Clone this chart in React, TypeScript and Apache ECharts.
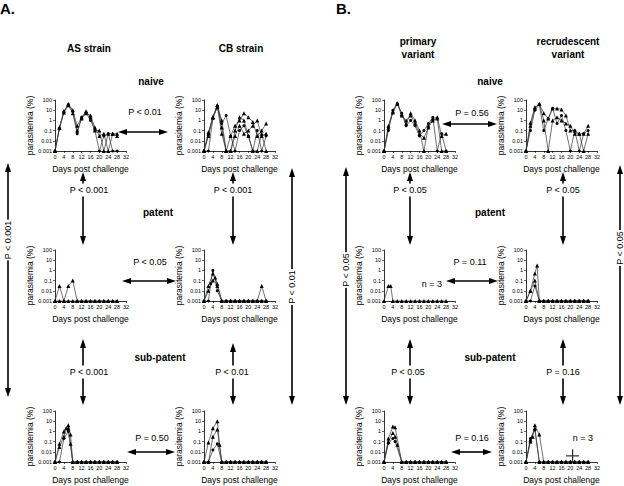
import React, { useEffect, useRef } from "react";
import * as echarts from "echarts";

const FONT = "'Liberation Sans', Arial, Helvetica, sans-serif";
const L = 0.001; // detection limit (plotted as 0.001)

// ---- x positions (days post challenge) ----
const daysNaive = [0, 2, 4, 6, 8, 10, 12, 14, 16, 18, 20, 22, 24, 26, 28];
const daysEarly = [0, 2, 3, 4, 5, 6, 7, 8, 10, 12, 14, 16, 18, 20, 22, 24, 26, 28];

// ---- naive row ----
const asNaive1 = [L, 0.2, 8, 40, 10, 0.3, 2, 8, 2, 0.1, 0.1, L, 0.05, 0.05, 0.03];
const asNaive2 = [L, 0.2, 6, 30, 5, 0.1, 1.5, 5, 3, 0.2, 0.03, 0.05, L, 0.05, 0.05];
const asNaive3 = [L, 0.15, 7, 35, 8, 0.05, 2, 6, 1, 0.1, L, 0.03, 0.05, L, L];

const cbNaive1 = [L, 0.07, 2, 30, 1, L, 0.03, 0.3, 1, 5, 2, 0.7, 0.03, 0.1, 0.5];
const cbNaive2 = [L, 0.03, 2, 30, 0.2, L, L, 0.03, 0.3, 0.05, 0.1, 0.3, 1, 0.03, 0.05];
const cbNaive3 = [L, L, 1.5, 25, 0.5, 3, 0.03, L, 0.1, 0.3, 0.03, L, 0.1, L, 0.03];
const cbNaive4 = [L, 0.05, 2, 20, 0.05, L, L, 0.1, 2, 1, 0.03, L, L, 0.05, L];

const primNaive1 = [L, 0.3, 8, 50, 4, 0.5, 5, 1, 0.1, L, 0.3, 1.5, 2, 0.03, 0.05];
const primNaive2 = [L, 0.2, 6, 40, 3, 1, 3, 0.5, 0.05, 0.02, 0.2, 1, 1.5, L, L];
const primNaive3 = [L, 0.1, 10, 45, 5, 0.3, 1, 0.3, 0.03, 0.1, 0.5, 2, L, 0.05, L];

const recNaive1 = [L, 0.6, 20, 40, 5, 1.5, 15, 15, 12, 3, 0.1, 0.1, 0.05, 0.05, 0.3];
const recNaive2 = [L, 0.3, 15, 40, 1, L, 1, 2, 1, 0.5, 0.3, 0.05, 0.05, L, 0.05];
const recNaive3 = [L, 0.1, 10, 35, 0.1, 1.5, 15, 0.5, 3, 0.1, L, 0.1, L, 0.05, 0.1];

// ---- patent row (daysEarly) ----
const asPat1 = [L, 0.03, null, L, null, 0.03, null, 0.1, L, L, L, L, L, L, L, L, L, L];
const asPat2 = [L, L, null, L, null, L, null, L, L, L, L, L, L, L, L, L, L, L];

const cbPat1 = [L, 0.03, null, 0.5, null, 0.05, null, L, L, L, L, L, L, L, L, L, 0.03, L];
const cbPat2 = [L, 0.01, null, 0.1, 0.2, 0.03, null, L, L, L, L, L, L, L, L, L, L, L];
const cbPat3 = [L, L, 0.05, 1, null, 0.01, null, L, L, L, L, L, L, L, L, L, L, L];

const primPat1 = [L, 0.03, 0.03, L, null, L, null, L, L, L, L, L, L, L, L, L, L, L];

const recPat1 = [L, 0.01, null, 0.5, 3, L, null, L, L, L, L, L, L, L, L, L, L, L];
const recPat2 = [L, 0.01, null, 0.1, null, L, null, L, L, L, L, L, L, L, L, L, L, L];
const recPat3 = [L, L, null, 0.03, null, L, null, L, L, L, L, L, L, L, L, L, L, L];

// ---- sub-patent row (daysEarly) ----
const asSub1 = [L, 0.06, null, 1, null, 4, 0.5, L, L, L, L, L, L, L, L, L, L, L];
const asSub2 = [L, 0.03, null, 0.3, 2, 2, 0.06, L, L, L, L, L, L, L, L, L, L, L];
const asSub3 = [L, L, null, 0.2, null, 1, null, L, L, L, L, L, L, L, L, L, L, L];

const cbSub1 = [L, 0.08, null, 2, null, 10, 0.05, L, L, L, L, L, L, L, L, L, L, L];
const cbSub2 = [L, L, null, 0.3, null, 1.5, null, L, L, L, L, L, L, L, L, L, L, L];
const cbSub3 = [L, L, null, 0.015, null, 0.06, null, L, L, L, L, L, L, L, L, L, L, L];

const primSub1 = [L, 0.2, null, 3, 2.5, null, null, L, L, L, L, L, L, L, L, L, L, L];
const primSub2 = [L, 0.1, null, 0.7, 0.3, 0.05, null, L, L, L, L, L, L, L, L, L, L, L];
const primSub3 = [L, 0.07, null, 0.2, 0.1, null, null, L, L, L, L, L, L, L, L, L, L, L];

const recSub1 = [L, 0.1, 0.3, 4, null, 0.5, null, L, L, L, L, L, L, L, L, L, L, L];
const recSub2 = [L, 0.15, null, 2, null, L, null, L, L, L, L, L, L, L, L, L, L, L];
const recSub3 = [L, 0.2, null, 1.4, null, L, null, L, L, L, L, L, L, L, L, L, L, L];

// death mark (dagger) in recrudescent sub-patent panel
const deathDay = [21];
const deathLevel = [0.004];

const yTicks = ["0.001", "0.01", "0.1", "1", "10", "100"];
const xTickMax = 32;

type Panel = { days: number[]; mice: (number | null)[][] };
const panels: Panel[] = [
  { days: daysNaive, mice: [asNaive1, asNaive2, asNaive3] },
  { days: daysNaive, mice: [cbNaive1, cbNaive2, cbNaive3, cbNaive4] },
  { days: daysNaive, mice: [primNaive1, primNaive2, primNaive3] },
  { days: daysNaive, mice: [recNaive1, recNaive2, recNaive3] },
  { days: daysEarly, mice: [asPat1, asPat2] },
  { days: daysEarly, mice: [cbPat1, cbPat2, cbPat3] },
  { days: daysEarly, mice: [primPat1] },
  { days: daysEarly, mice: [recPat1, recPat2, recPat3] },
  { days: daysEarly, mice: [asSub1, asSub2, asSub3] },
  { days: daysEarly, mice: [cbSub1, cbSub2, cbSub3] },
  { days: daysEarly, mice: [primSub1, primSub2, primSub3] },
  { days: daysEarly, mice: [recSub1, recSub2, recSub3] },
];

const colLeft = [55, 204, 384, 526];
const rowTop = [100, 250, 411];
const PW = 71;
const PH = 51;

const symbols = ["triangle", "triangle", "circle", "triangle"];
const symbolSizes = [4, 4, 3, 4];

function vArrow(x: number, y1: number, y2: number, top: boolean, bottom: boolean) {
  const els: any[] = [
    {
      type: "line",
      shape: { x1: x, y1: y1 + (top ? 6 : 0), x2: x, y2: y2 - (bottom ? 6 : 0) },
      style: { stroke: "#000", lineWidth: 1.6 },
    },
  ];
  if (top)
    els.push({ type: "polygon", shape: { points: [[x, y1], [x - 3, y1 + 9], [x + 3, y1 + 9]] }, style: { fill: "#000" } });
  if (bottom)
    els.push({ type: "polygon", shape: { points: [[x, y2], [x - 3, y2 - 9], [x + 3, y2 - 9]] }, style: { fill: "#000" } });
  return els;
}

function hArrow(x1: number, x2: number, y: number) {
  return [
    { type: "line", shape: { x1: x1 + 6, y1: y, x2: x2 - 6, y2: y }, style: { stroke: "#000", lineWidth: 1.6 } },
    { type: "polygon", shape: { points: [[x1, y], [x1 + 9, y - 3], [x1 + 9, y + 3]] }, style: { fill: "#000" } },
    { type: "polygon", shape: { points: [[x2, y], [x2 - 9, y - 3], [x2 - 9, y + 3]] }, style: { fill: "#000" } },
  ];
}

function txt(x: number, y: number, text: string, size: number, bold = false, opts: any = {}) {
  return {
    type: "text",
    x,
    y,
    rotation: opts.rotation || 0,
    z: 10,
    style: {
      text,
      fontSize: size,
      fontWeight: bold ? "bold" : "normal",
      fontFamily: FONT,
      fill: "#000",
      align: opts.align || "center",
      verticalAlign: "middle",
      backgroundColor: opts.bg ? "#fff" : undefined,
      padding: opts.bg ? [2, 1] : undefined,
    },
  };
}

export default function App() {
  const ref = useRef<HTMLDivElement>(null);
  useEffect(() => {
    const chart = echarts.init(ref.current!, null, { renderer: "svg" });
    const grids: any[] = [];
    const xAxes: any[] = [];
    const yAxes: any[] = [];
    const series: any[] = [];
    panels.forEach((p, i) => {
      const r = Math.floor(i / 4);
      const c = i % 4;
      grids.push({ left: colLeft[c], top: rowTop[r], width: PW, height: PH, containLabel: false });
      xAxes.push({
        type: "value",
        gridIndex: i,
        min: 0,
        max: xTickMax,
        interval: 4,
        name: "Days post challenge",
        nameLocation: "middle",
        nameGap: 13,
        nameTextStyle: { fontSize: 8.5, fontFamily: FONT, color: "#000" },
        axisLine: { lineStyle: { color: "#000", width: 0.8 } },
        axisTick: { show: true, length: 2, lineStyle: { color: "#000", width: 0.6 } },
        axisLabel: { fontSize: 5.5, fontFamily: FONT, color: "#000", margin: 3 },
        splitLine: { show: false },
      });
      yAxes.push({
        type: "log",
        logBase: 10,
        gridIndex: i,
        min: 0.001,
        max: 100,
        name: "parasitemia (%)",
        nameLocation: "middle",
        nameGap: 19,
        nameTextStyle: { fontSize: 8.5, fontFamily: FONT, color: "#000" },
        axisLine: { show: true, lineStyle: { color: "#000", width: 0.8 } },
        axisTick: { show: true, length: 2, lineStyle: { color: "#000", width: 0.6 } },
        axisLabel: {
          fontSize: 5.5,
          fontFamily: FONT,
          color: "#000",
          margin: 3,
          formatter: (v: number) => {
            const k = Math.round(Math.log10(v)) + 3;
            return yTicks[k] ?? String(v);
          },
        },
        splitLine: { show: false },
      });
      p.mice.forEach((m, j) => {
        series.push({
          type: "line",
          xAxisIndex: i,
          yAxisIndex: i,
          data: p.days.map((d, k) => [d, m[k]]).filter((q) => q[1] !== null),
          symbol: symbols[j % symbols.length],
          symbolSize: symbolSizes[j % symbolSizes.length],
          showSymbol: true,
          lineStyle: { color: "#333", width: 0.7 },
          itemStyle: { color: "#000" },
          silent: true,
        });
      });
    });
    series.push({
      type: "scatter",
      xAxisIndex: 11,
      yAxisIndex: 11,
      data: deathDay.map((d, k) => [d, deathLevel[k]]),
      symbol: "path://M5.4,0H6.6V5.4H12V6.6H6.6V12H5.4V6.6H0V5.4H5.4Z",
      symbolSize: 13,
      itemStyle: { color: "#000" },
      silent: true,
    });

    const g: any[] = [
      txt(0, 8, "A.", 15, true, { align: "left" }),
      txt(336, 8, "B.", 15, true, { align: "left" }),
      txt(89, 48, "AS strain", 10, true),
      txt(241, 48, "CB strain", 10, true),
      txt(418, 41, "primary", 10, true),
      txt(418, 54, "variant", 10, true),
      txt(568, 41, "recrudescent", 10, true),
      txt(568, 54, "variant", 10, true),
      txt(151, 81, "naive", 10, true),
      txt(490, 81, "naive", 10, true),
      txt(158, 212, "patent", 10, true),
      txt(490, 212, "patent", 10, true),
      txt(160, 357, "sub-patent", 10, true),
      txt(490, 357, "sub-patent", 10, true),
      // horizontal comparisons
      txt(145, 112, "P < 0.01", 9),
      ...hArrow(118, 168, 132),
      txt(472, 113, "P = 0.56", 9),
      ...hArrow(442, 497, 124),
      txt(150, 262, "P < 0.05", 9),
      ...hArrow(122, 176, 281),
      txt(470, 262, "P = 0.11", 9),
      ...hArrow(446, 498, 281),
      txt(152, 438, "P = 0.50", 9),
      ...hArrow(127, 175, 452),
      txt(472, 438, "P = 0.16", 9),
      ...hArrow(451, 492, 452),
      // vertical comparisons naive <-> patent
      ...vArrow(83, 172, 245, true, true),
      txt(89, 190, "P < 0.001", 9, false, { bg: true }),
      ...vArrow(233, 172, 245, true, true),
      txt(233, 190, "P < 0.001", 9, false, { bg: true }),
      ...vArrow(410, 172, 245, true, true),
      txt(410, 190, "P < 0.05", 9, false, { bg: true }),
      ...vArrow(563, 172, 245, true, true),
      txt(563, 190, "P < 0.05", 9, false, { bg: true }),
      // patent <-> sub-patent
      ...vArrow(83, 339, 405, true, true),
      txt(89, 372, "P < 0.001", 9, false, { bg: true }),
      ...vArrow(233, 343, 405, true, true),
      txt(232, 372, "P < 0.01", 9, false, { bg: true }),
      ...vArrow(410, 339, 405, true, true),
      txt(408, 372, "P < 0.05", 9, false, { bg: true }),
      ...vArrow(563, 339, 405, true, true),
      txt(563, 372, "P = 0.16", 9, false, { bg: true }),
      // long comparisons naive <-> sub-patent
      ...vArrow(8, 163, 397, true, true),
      txt(8, 240, "P < 0.001", 9, false, { bg: true, rotation: Math.PI / 2 }),
      ...vArrow(292, 168, 405, true, true),
      txt(292, 287, "P < 0.01", 9, false, { bg: true, rotation: Math.PI / 2 }),
      ...vArrow(346, 167, 405, true, true),
      txt(346, 270, "P < 0.05", 9, false, { bg: true, rotation: Math.PI / 2 }),
      ...vArrow(620, 165, 405, true, true),
      txt(620, 248, "P < 0.05", 9, false, { bg: true, rotation: Math.PI / 2 }),
      // n = 3 notes
      txt(432, 284, "n = 3", 9),
      txt(583, 438, "n = 3", 9),
    ];

    chart.setOption({
      animation: false,
      backgroundColor: "#fff",
      textStyle: { fontFamily: FONT },
      grid: grids,
      xAxis: xAxes,
      yAxis: yAxes,
      series,
      graphic: { elements: g },
    });
    return () => chart.dispose();
  }, []);
  return (
    <div
      ref={ref}
      style={{ position: "absolute", left: 0, top: 0, width: 624, height: 486, background: "#fff" }}
    />
  );
}
